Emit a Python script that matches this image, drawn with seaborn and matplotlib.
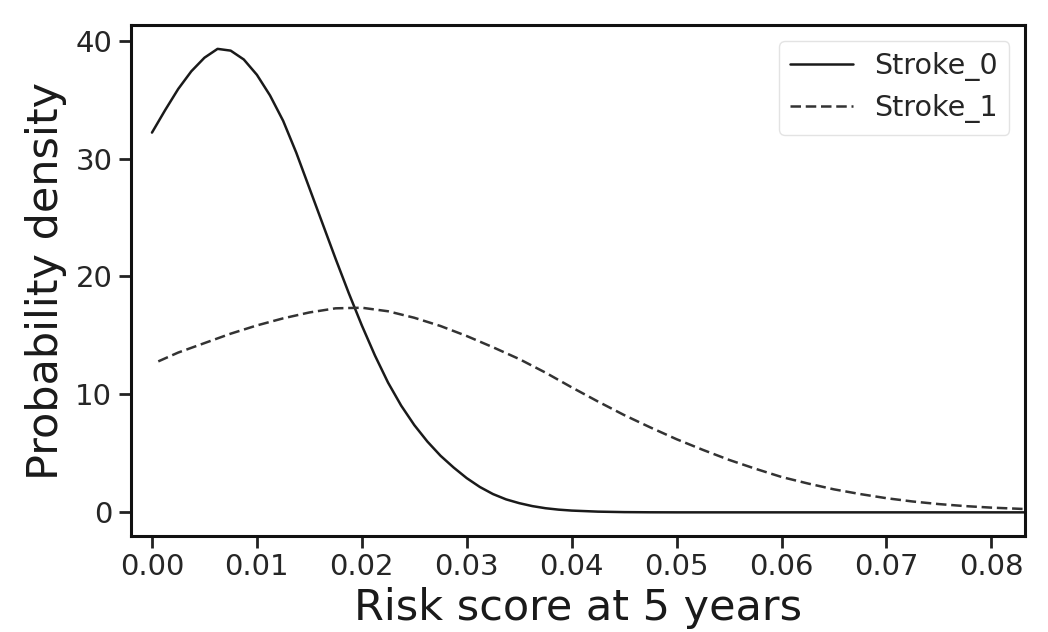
import matplotlib
matplotlib.use("Agg")
import matplotlib.pyplot as plt
import seaborn as sns
import pandas as pd

# Risk score grid and densities
risk_stroke0 = [0.0, 0.00125, 0.0025, 0.00375, 0.005, 0.00625, 0.0075, 0.00875,
                0.01, 0.01125, 0.0125, 0.01375, 0.015, 0.01625, 0.0175, 0.01875,
                0.02, 0.02125, 0.0225, 0.02375, 0.025, 0.02625, 0.0275, 0.02875,
                0.03, 0.03125, 0.0325, 0.03375, 0.035, 0.03625, 0.0375, 0.03875,
                0.04, 0.0425, 0.045, 0.0475, 0.05, 0.055, 0.06, 0.065, 0.07,
                0.075, 0.08, 0.0835]
density_stroke0 = [32.2, 34.1, 35.9, 37.4, 38.55, 39.3, 39.15, 38.4,
                   37.1, 35.35, 33.2, 30.5, 27.5, 24.5, 21.5, 18.6,
                   15.85, 13.3, 11.0, 9.05, 7.4, 6.0, 4.8, 3.8,
                   2.9, 2.15, 1.55, 1.1, 0.78, 0.53, 0.35, 0.23,
                   0.15, 0.06, 0.02, 0.005, 0.0, 0.0, 0.0, 0.0, 0.0,
                   0.0, 0.0, 0.0]

risk_stroke1 = [0.0006, 0.0025, 0.005, 0.0075, 0.01, 0.0125, 0.015, 0.0175,
                0.02, 0.0225, 0.025, 0.0275, 0.03, 0.0325, 0.035, 0.0375,
                0.04, 0.0425, 0.045, 0.0475, 0.05, 0.0525, 0.055, 0.0575,
                0.06, 0.0625, 0.065, 0.0675, 0.07, 0.0725, 0.075, 0.0775,
                0.08, 0.0835]
density_stroke1 = [12.8, 13.55, 14.35, 15.15, 15.85, 16.45, 16.95, 17.3,
                   17.35, 17.05, 16.5, 15.8, 14.95, 14.0, 13.0, 11.85,
                   10.6, 9.4, 8.25, 7.2, 6.2, 5.3, 4.45, 3.7,
                   3.0, 2.45, 1.95, 1.55, 1.2, 0.92, 0.7, 0.53,
                   0.4, 0.27]

labels = ["Stroke_0", "Stroke_1"]
x_ticks = [0.00, 0.01, 0.02, 0.03, 0.04, 0.05, 0.06, 0.07, 0.08]
y_ticks = [0, 10, 20, 30, 40]

sns.set_style("ticks")
plt.rcParams['font.family'] = ['DejaVu Sans']

df0 = pd.DataFrame({"x": risk_stroke0, "y": density_stroke0})
df1 = pd.DataFrame({"x": risk_stroke1, "y": density_stroke1})

fig = plt.figure(figsize=(10.48, 6.32), dpi=100)
ax = fig.add_axes([0.125, 0.152, 0.853, 0.808])

sns.lineplot(data=df0, x="x", y="y", ax=ax, color="#1a1a1a", lw=1.8,
             label=labels[0], sort=False)
sns.lineplot(data=df1, x="x", y="y", ax=ax, color="#333333", lw=1.8,
             label=labels[1], sort=False)
ax.lines[1].set_linestyle((0, (4.2, 1.9)))

ax.set_xlim(-0.002, 0.0832)
ax.set_ylim(-2.0, 41.3)
ax.set_xticks(x_ticks)
ax.set_xticklabels([f"{t:.2f}" for t in x_ticks])
ax.set_yticks(y_ticks)

ax.tick_params(axis="both", labelsize=21, length=8.5, width=2,
               colors="#222222", labelcolor="#262626")
ax.tick_params(axis="y", pad=5)
ax.tick_params(axis="x", pad=4)
for s in ax.spines.values():
    s.set_linewidth(2.2)
    s.set_color("#111111")

ax.set_xlabel("Risk score at 5 years", fontsize=31, color="#1a1a1a", labelpad=4)
ax.set_ylabel("Probability density", fontsize=31, color="#1a1a1a", labelpad=6)

leg = ax.legend(loc="upper right", fontsize=20.5, frameon=True,
                handlelength=2.2, handletextpad=0.75, borderaxespad=0.55,
                labelspacing=0.45)
leg.get_lines()[1].set_linestyle((0, (4.2, 1.9)))
leg.get_frame().set_edgecolor("#dddddd")
leg.get_frame().set_linewidth(1.0)

fig.savefig("out.png", dpi=100)
